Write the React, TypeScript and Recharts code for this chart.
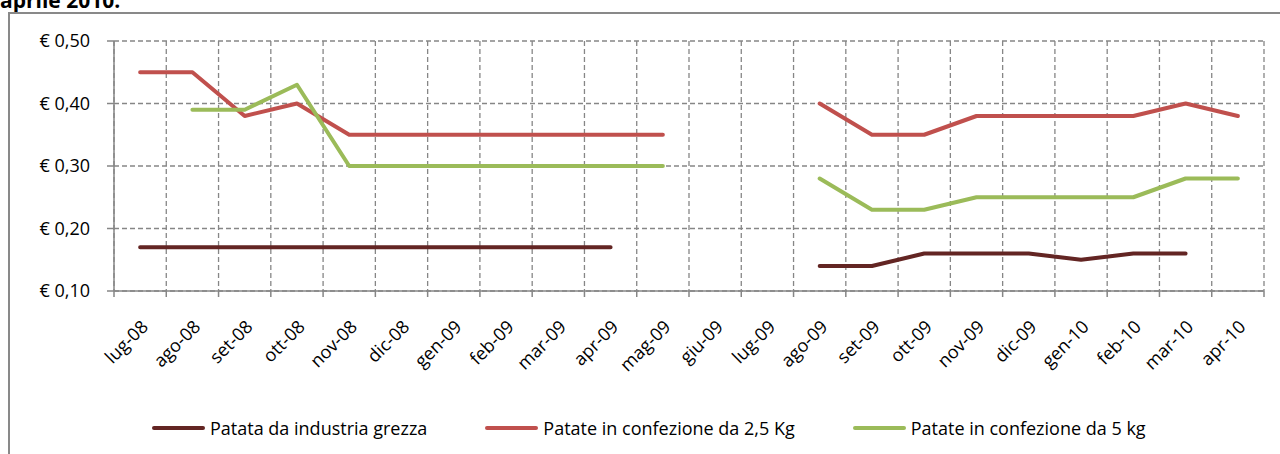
import React from 'react';
import { LineChart, Line, XAxis, YAxis, CartesianGrid, Legend } from 'recharts';

const categories: string[] = [
  'lug-08', 'ago-08', 'set-08', 'ott-08', 'nov-08', 'dic-08', 'gen-09', 'feb-09', 'mar-09', 'apr-09', 'mag-09',
  'giu-09', 'lug-09', 'ago-09', 'set-09', 'ott-09', 'nov-09', 'dic-09', 'gen-10', 'feb-10', 'mar-10', 'apr-10',
];

const industriaGrezza: (number | null)[] = [
  0.17, 0.17, 0.17, 0.17, 0.17, 0.17, 0.17, 0.17, 0.17, 0.17, null,
  null, null, 0.14, 0.14, 0.16, 0.16, 0.16, 0.15, 0.16, 0.16, null,
];

const confezione25: (number | null)[] = [
  0.45, 0.45, 0.38, 0.40, 0.35, 0.35, 0.35, 0.35, 0.35, 0.35, 0.35,
  null, null, 0.40, 0.35, 0.35, 0.38, 0.38, 0.38, 0.38, 0.40, 0.38,
];

const confezione5: (number | null)[] = [
  null, 0.39, 0.39, 0.43, 0.30, 0.30, 0.30, 0.30, 0.30, 0.30, 0.30,
  null, null, 0.28, 0.23, 0.23, 0.25, 0.25, 0.25, 0.25, 0.28, 0.28,
];

const yTicks: number[] = [0.1, 0.2, 0.3, 0.4, 0.5];

const seriesNames = {
  industria: 'Patata da industria grezza',
  conf25: 'Patate in confezione da 2,5 Kg',
  conf5: 'Patate in confezione da 5 kg',
};

const COLORS = {
  industria: '#632523',
  conf25: '#C0504D',
  conf5: '#9BBB59',
};

const data = categories.map((c, i) => ({
  pos: i + 0.5,
  cat: c,
  industria: industriaGrezza[i],
  conf25: confezione25[i],
  conf5: confezione5[i],
}));

const boundaryTicks = Array.from({ length: categories.length + 1 }, (_, i) => i);
const centerTicks = categories.map((_, i) => i + 0.5);

const FONT = '"Open Sans", "Noto Sans", sans-serif';
const GRAY = '#868686';

const formatEuro = (v: number) => '€ ' + v.toFixed(2).replace('.', ',');

const renderLegend = (props: any) => {
  const payload = props.payload || [];
  return (
    <div style={{ display: 'flex', alignItems: 'center', paddingLeft: 152, fontFamily: FONT, fontSize: 18, color: '#000' }}>
      {payload.map((entry: any, idx: number) => (
        <div key={idx} style={{ display: 'flex', alignItems: 'center', marginRight: 58 }}>
          <div style={{ width: 53, height: 4, background: entry.color, borderRadius: 2, marginRight: 5 }} />
          <span style={{ whiteSpace: 'nowrap' }}>{entry.value}</span>
        </div>
      ))}
    </div>
  );
};

const verticalGen = (props: any) => {
  const xAxis = props && props.xAxis;
  if (xAxis && typeof xAxis.scale === 'function') {
    return boundaryTicks.map((t) => xAxis.scale(t));
  }
  const off = props.offset;
  return boundaryTicks.map((t) => off.left + (t / categories.length) * off.width);
};

export default function App() {
  return (
    <div style={{ position: 'absolute', left: 0, top: 0, width: 1280, height: 454, overflow: 'hidden', background: '#fff' }}>
      <div
        style={{
          position: 'absolute',
          left: 0,
          top: -10,
          fontFamily: FONT,
          fontWeight: 700,
          fontSize: 21,
          lineHeight: '20px',
          color: '#000',
          whiteSpace: 'nowrap',
        }}
      >
        aprile 2010.
      </div>
      <div
        style={{
          position: 'absolute',
          left: 8,
          top: 12,
          width: 1320,
          height: 500,
          border: '2px solid #898989',
          boxSizing: 'border-box',
        }}
      />
      <div style={{ position: 'absolute', left: 0, top: 0 }}>
        <LineChart
          width={1280}
          height={454}
          data={data}
          margin={{ top: 41, right: 16, bottom: 97, left: 0 }}
        >
          <CartesianGrid
            stroke={GRAY}
            strokeWidth={1.3}
            strokeDasharray="5 3"
            verticalCoordinatesGenerator={verticalGen}
          />
          <XAxis
            xAxisId={0}
            type="number"
            dataKey="pos"
            domain={[0, categories.length]}
            ticks={boundaryTicks}
            interval={0}
            tickFormatter={() => ''}
            tickSize={6}
            height={6}
            axisLine={{ stroke: GRAY, strokeWidth: 1.5 }}
            tickLine={{ stroke: GRAY, strokeWidth: 1.5 }}
            allowDataOverflow
          />
          <XAxis
            xAxisId="labels"
            type="number"
            dataKey="pos"
            domain={[0, categories.length]}
            ticks={centerTicks}
            interval={0}
            tickFormatter={(v: number) => categories[Math.floor(v)]}
            axisLine={false}
            tickLine={false}
            tickSize={0}
            tickMargin={22}
            angle={-45}
            textAnchor="end"
            height={60}
            tick={{ fontFamily: FONT, fontSize: 18, fill: '#000' }}
            allowDataOverflow
          />
          <YAxis
            type="number"
            domain={[0.1, 0.5]}
            ticks={yTicks}
            interval={0}
            tickFormatter={formatEuro}
            width={114}
            tickSize={7}
            tickMargin={17}
            axisLine={{ stroke: GRAY, strokeWidth: 1.5 }}
            tickLine={{ stroke: GRAY, strokeWidth: 1.5 }}
            tick={{ fontFamily: FONT, fontSize: 18, fill: '#000' }}
            allowDataOverflow
          />
          <Legend
            layout="horizontal"
            verticalAlign="middle"
            align="center"
            wrapperStyle={{ top: 416, left: 0, width: 1280 }}
            content={renderLegend}
          />
          <Line
            type="linear"
            dataKey="industria"
            name={seriesNames.industria}
            stroke={COLORS.industria}
            strokeWidth={4}
            strokeLinecap="round"
            strokeLinejoin="round"
            dot={false}
            activeDot={false}
            connectNulls={false}
            isAnimationActive={false}
          />
          <Line
            type="linear"
            dataKey="conf25"
            name={seriesNames.conf25}
            stroke={COLORS.conf25}
            strokeWidth={4}
            strokeLinecap="round"
            strokeLinejoin="round"
            dot={false}
            activeDot={false}
            connectNulls={false}
            isAnimationActive={false}
          />
          <Line
            type="linear"
            dataKey="conf5"
            name={seriesNames.conf5}
            stroke={COLORS.conf5}
            strokeWidth={4}
            strokeLinecap="round"
            strokeLinejoin="round"
            dot={false}
            activeDot={false}
            connectNulls={false}
            isAnimationActive={false}
          />
        </LineChart>
      </div>
    </div>
  );
}
